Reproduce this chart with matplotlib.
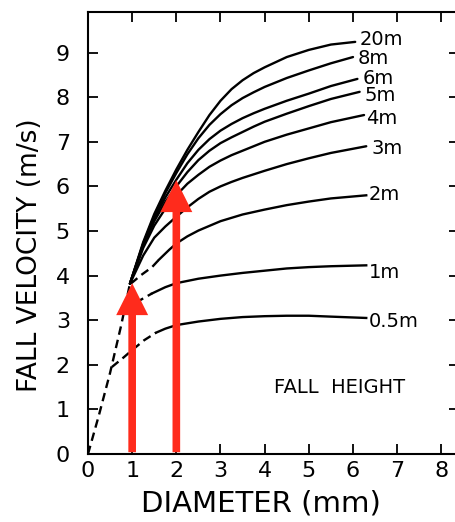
import numpy as np
import matplotlib
matplotlib.use("Agg")
from matplotlib import pyplot as plt

# curves: diameter (mm) vs fall velocity (m/s)
# solid parts of the curves that start from the common bundle
x_bundle = [0.95, 1.25, 1.5, 1.75, 2.0, 2.25, 2.5, 2.75, 3.0, 3.25, 3.5, 3.75, 4.0, 4.5, 5.0, 5.5]
v_20m = [3.82, 4.75, 5.38, 5.9, 6.38, 6.82, 7.22, 7.6, 7.92, 8.18, 8.38, 8.54, 8.67, 8.9, 9.06, 9.18, 9.24]
v_8m = [3.82, 4.72, 5.33, 5.85, 6.3, 6.72, 7.08, 7.38, 7.62, 7.82, 7.98, 8.11, 8.23, 8.43, 8.6, 8.76, 8.9]
v_6m = [3.82, 4.7, 5.28, 5.75, 6.15, 6.52, 6.82, 7.06, 7.25, 7.4, 7.53, 7.64, 7.74, 7.92, 8.08, 8.25, 8.41]
v_5m = [3.82, 4.67, 5.22, 5.65, 6.0, 6.32, 6.59, 6.8, 6.97, 7.1, 7.22, 7.34, 7.45, 7.63, 7.8, 7.96, 8.12]
v_4m = [3.82, 4.62, 5.12, 5.5, 5.8, 6.06, 6.26, 6.44, 6.58, 6.7, 6.8, 6.9, 7.0, 7.16, 7.3, 7.44, 7.6]
v_3m = [3.82, 4.45, 4.85, 5.1, 5.32, 5.53, 5.72, 5.88, 6.0, 6.1, 6.19, 6.27, 6.35, 6.5, 6.63, 6.75, 6.9]
x_end = {'20m': 6.05, '8m': 6.0, '6m': 6.1, '5m': 6.15, '4m': 6.25, '3m': 6.3}

x_2m = [1.6, 1.84, 2.0, 2.25, 2.5, 3.0, 3.5, 4.0, 4.5, 5.0, 5.5, 6.3]
v_2m = [4.35, 4.58, 4.72, 4.88, 5.01, 5.22, 5.37, 5.48, 5.58, 5.66, 5.73, 5.8]
x_1m = [1.45, 1.75, 2.0, 2.5, 3.0, 3.5, 4.0, 4.5, 5.0, 5.5, 6.3]
v_1m = [3.6, 3.74, 3.83, 3.93, 4.0, 4.06, 4.11, 4.16, 4.19, 4.21, 4.23]
x_05m = [1.54, 1.75, 2.0, 2.5, 3.0, 3.5, 4.0, 4.5, 5.0, 5.5, 6.3]
v_05m = [2.72, 2.81, 2.89, 2.97, 3.03, 3.07, 3.09, 3.1, 3.1, 3.08, 3.05]

# dashed (extrapolated) parts
x_dash0 = [0.0, 0.25, 0.5, 0.75, 0.95]
v_dash0 = [0.0, 0.88, 1.82, 2.88, 3.82]
x_dash2m = [0.97, 1.2, 1.45, 1.6]
v_dash2m = [3.82, 4.01, 4.19, 4.35]
x_dash1m = [0.82, 1.11, 1.45]
v_dash1m = [3.23, 3.41, 3.6]
x_dash05m = [0.54, 0.8, 1.0, 1.27, 1.54]
v_dash05m = [1.95, 2.16, 2.33, 2.55, 2.72]

# labels at the right end of each curve
lab_text = ['20m', '8m', '6m', '5m', '4m', '3m', '2m', '1m', '0.5m']
lab_x = [6.15, 6.1, 6.21, 6.26, 6.3, 6.42, 6.35, 6.35, 6.35]
lab_y = [9.3, 8.86, 8.43, 8.03, 7.53, 6.86, 5.81, 4.06, 2.96]

# red arrows
arrow_x = [1, 2]
arrow_tip = [3.83, 6.14]

red = '#ff2b1c'
lw = 1.7
dash = (0, (3.6, 2.2))

fig = plt.figure(figsize=(4.56, 5.22), dpi=100)
ax = fig.add_axes([88/456, 68/522, 371/456, 442/522])

bundle = [('20m', v_20m), ('8m', v_8m), ('6m', v_6m), ('5m', v_5m), ('4m', v_4m), ('3m', v_3m)]
for name, v in bundle:
    ax.plot(x_bundle + [x_end[name]], v, color='black', lw=lw, solid_capstyle='round')

ax.plot(x_2m, v_2m, color='black', lw=lw)
ax.plot(x_1m, v_1m, color='black', lw=lw)
ax.plot(x_05m, v_05m, color='black', lw=lw)

for xs, vs in [(x_dash0, v_dash0), (x_dash2m, v_dash2m), (x_dash1m, v_dash1m), (x_dash05m, v_dash05m)]:
    ax.plot(xs, vs, color='black', lw=lw, linestyle=dash)

for t, x, y in zip(lab_text, lab_x, lab_y):
    ax.text(x, y, t, fontsize=14, ha='left', va='center')

ax.text(5.69, 1.5, 'FALL  HEIGHT', fontsize=14, ha='center', va='center')

for x, tip in zip(arrow_x, arrow_tip):
    ax.annotate('', xy=(x, tip), xytext=(x, 0.04),
                arrowprops=dict(arrowstyle='simple,head_length=2.3,head_width=2.3,tail_width=0.55',
                                color=red, mutation_scale=10, shrinkA=0, shrinkB=0, lw=0),
                zorder=5)

ax.set_xlim(0, 8.4)
ax.set_ylim(0, 9.91)
ax.set_xticks(range(0, 9))
ax.set_yticks(range(0, 10))
ax.tick_params(direction='in', length=7, width=1.3, labelsize=16, top=True, right=True)
ax.tick_params(axis='x', pad=5)
ax.tick_params(axis='y', pad=13)
for s in ax.spines.values():
    s.set_linewidth(1.5)

ax.set_xlabel('DIAMETER (mm)', fontsize=21)
ax.xaxis.label.set_va('center')
ax.xaxis.set_label_coords(0.466, -0.113)
ax.set_ylabel('FALL VELOCITY (m/s)', fontsize=19)
ax.yaxis.label.set_va('center')
ax.yaxis.set_label_coords(-0.156, 0.45)

plt.savefig('out.png', dpi=100)
